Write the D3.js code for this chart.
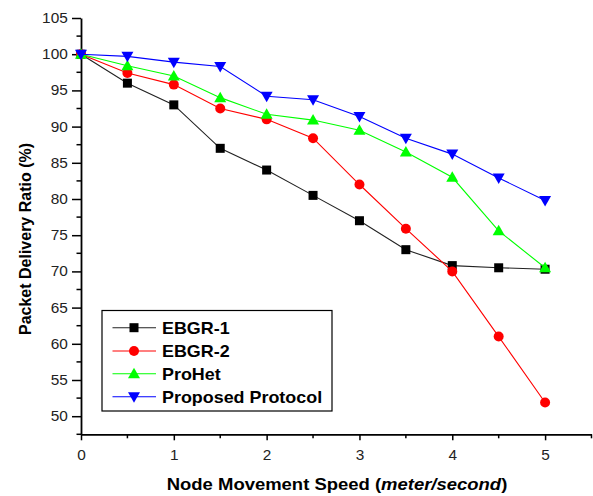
<!DOCTYPE html>
<html>
<head>
<meta charset="utf-8">
<script src="https://cdn.jsdelivr.net/npm/d3@7"></script>
<style>
  body { margin: 0; background: #fff; }
  svg { display: block; font-family: "Liberation Sans", Arial, sans-serif; }
</style>
</head>
<body>
<svg id="chart" width="593" height="496"></svg>
<script>
// Node movement speed (m/s)
const speeds = [0, 0.5, 1, 1.5, 2, 2.5, 3, 3.5, 4, 4.5, 5];

// Packet delivery ratio (%) per protocol
const ebgr1    = [100, 96, 93, 87, 84, 80.5, 77, 73, 70.8, 70.5, 70.3];
const ebgr2    = [100, 97.4, 95.8, 92.5, 91, 88.4, 82, 75.9, 70, 61, 51.9];
const proHet   = [100, 98.4, 97, 94, 91.7, 90.9, 89.5, 86.5, 83, 75.6, 70.5];
const proposed = [100, 99.7, 98.9, 98.3, 94.2, 93.7, 91.4, 88.4, 86.2, 82.9, 79.8];

const seriesNames = ["EBGR-1", "EBGR-2", "ProHet", "Proposed Protocol"];
const seriesColors = ["#000000", "#ff0000", "#00ff00", "#0000ff"];
const seriesShapes = ["square", "circle", "triangleUp", "triangleDown"];

const xTicks = [0, 1, 2, 3, 4, 5];
const yTicks = [50, 55, 60, 65, 70, 75, 80, 85, 90, 95, 100, 105];

const svg = d3.select("#chart");

const x = d3.scaleLinear().domain([0, 5.5]).range([81, 591.5]);
const y = d3.scaleLinear().domain([47.5, 105]).range([434.3, 18]);

// Text is drawn slightly wide, as in the original export
const WIDE = 1.1;

// Axes: major ticks with labels, minor ticks between
const xMinor = d3.range(0, 5.51, 0.5).filter(v => !xTicks.includes(v));
const yMinor = d3.range(47.5, 105.01, 2.5).filter(v => !yTicks.includes(v));

const gx = svg.append("g").attr("transform", `translate(0,${y(47.5)})`);
gx.call(d3.axisBottom(x).tickValues(xTicks).tickFormat(d3.format("d")).tickSize(6).tickSizeOuter(0).tickPadding(9.5));
gx.selectAll(".minor").data(xMinor).join("line")
  .attr("x1", d => x(d)).attr("x2", d => x(d)).attr("y1", 0).attr("y2", 4)
  .attr("stroke", "#000").attr("stroke-width", 1.5);

const gy = svg.append("g").attr("transform", `translate(${x(0)},0)`);
gy.call(d3.axisLeft(y).tickValues(yTicks).tickFormat(d3.format("d")).tickSize(9).tickSizeOuter(0).tickPadding(3));
gy.selectAll(".minor").data(yMinor).join("line")
  .attr("x1", 0).attr("x2", -4.5).attr("y1", d => y(d)).attr("y2", d => y(d))
  .attr("stroke", "#000").attr("stroke-width", 1.5);

[gx, gy].forEach(g => {
  g.select(".domain").attr("stroke-width", 1.8);
  g.selectAll(".tick line").attr("stroke-width", 1.5);
  g.selectAll(".tick text").attr("font-size", 14).attr("fill", "#222")
    .attr("font-family", "'Liberation Sans', Arial, sans-serif")
    .attr("transform", `scale(${WIDE},1)`);
});

// Axis titles
svg.append("text")
  .attr("transform", `translate(31,239) rotate(-90)`)
  .attr("text-anchor", "middle")
  .attr("font-size", 16).attr("font-weight", "bold")
  .text("Packet Delivery Ratio (%)");

const xt = svg.append("text")
  .attr("transform", `translate(337,490) scale(1.1,1)`)
  .attr("text-anchor", "middle")
  .attr("font-size", 16.8).attr("font-weight", "bold");
xt.append("tspan").text("Node Movement Speed (");
xt.append("tspan").attr("font-style", "italic").text("meter/second");
xt.append("tspan").text(")");

// Marker drawing
function drawMarker(g, shape, color, cx, cy) {
  if (shape === "square") {
    g.append("rect").attr("x", cx - 4.5).attr("y", cy - 4.5).attr("width", 9).attr("height", 9).attr("fill", color);
  } else if (shape === "circle") {
    g.append("circle").attr("cx", cx).attr("cy", cy).attr("r", 5).attr("fill", color);
  } else if (shape === "triangleUp") {
    g.append("path").attr("d", `M${cx},${cy - 6} L${cx + 6},${cy + 4.5} L${cx - 6},${cy + 4.5} Z`).attr("fill", color);
  } else {
    g.append("path").attr("d", `M${cx},${cy + 6} L${cx + 6},${cy - 4.5} L${cx - 6},${cy - 4.5} Z`).attr("fill", color);
  }
}

const allSeries = [ebgr1, ebgr2, proHet, proposed];
const line = d3.line().x((d, i) => x(speeds[i])).y(d => y(d));

allSeries.forEach((vals, si) => {
  const g = svg.append("g");
  g.append("path").datum(vals).attr("d", line)
    .attr("fill", "none").attr("stroke", si === 0 ? "#222" : seriesColors[si]).attr("stroke-width", 1.1);
  vals.forEach((v, i) => drawMarker(g, seriesShapes[si], seriesColors[si], x(speeds[i]), y(v)));
});

// Legend
const lg = svg.append("g");
lg.append("rect").attr("x", 102).attr("y", 310.5).attr("width", 230).attr("height", 100.5)
  .attr("fill", "#fff").attr("stroke", "#000").attr("stroke-width", 1.2);
const legendY = [327.7, 351, 373.8, 396.7];
seriesNames.forEach((name, i) => {
  const ly = legendY[i];
  lg.append("line").attr("x1", 112.5).attr("x2", 156).attr("y1", ly).attr("y2", ly)
    .attr("stroke", i === 0 ? "#222" : seriesColors[i]).attr("stroke-width", 1.1);
  drawMarker(lg, seriesShapes[i], seriesColors[i], 134, ly);
  lg.append("text").attr("transform", `translate(162,${ly + 5.8}) scale(1.12,1)`)
    .attr("font-size", 16).attr("font-weight", "bold").text(name);
});
</script>
</body>
</html>
